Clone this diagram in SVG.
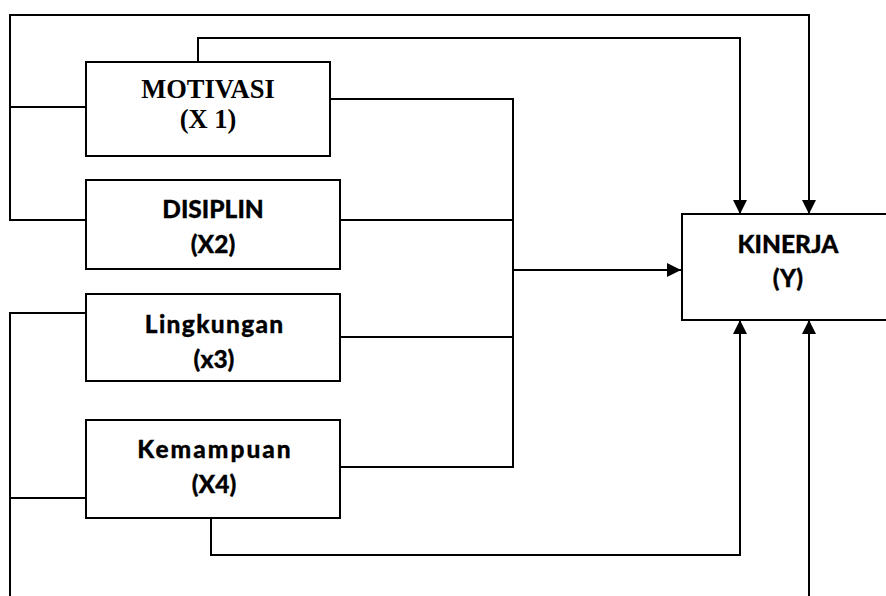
<svg xmlns="http://www.w3.org/2000/svg" width="886" height="596" viewBox="0 0 886 596">
  <style>
    .box { fill: #ffffff; stroke: #000000; stroke-width: 2; }
    .wire { fill: none; stroke: #000000; stroke-width: 2; }
    .serif { font-family: "Liberation Serif", "Times New Roman", serif; font-weight: bold; font-size: 26.5px; text-anchor: middle; fill: #000000; }
    .sans { font-family: Lato, "Open Sans", sans-serif; font-weight: 900; font-size: 24.5px; text-anchor: middle; fill: #000000; stroke: #000000; stroke-width: 0.3; }
  </style>
  <defs>
    <marker id="arrow" viewBox="0 0 10 10" refX="10" refY="5" markerUnits="userSpaceOnUse" markerWidth="15" markerHeight="14" orient="auto">
      <path d="M0,0 L10,5 L0,10 z" fill="#000000"/>
    </marker>
  </defs>

  <!-- connectors -->
  <g id="connectors">
    <!-- outer loop from X1 / X2 over the top into Y -->
    <path class="wire" d="M86,220 H10 V15 H809 V214" marker-end="url(#arrow)"/>
    <path class="wire" d="M10,107 H86"/>
    <!-- X1 top edge into Y -->
    <path class="wire" d="M198,62 V38 H740 V214" marker-end="url(#arrow)"/>
    <!-- collector bus on the right of the four variables -->
    <path class="wire" d="M330,99 H513 V467 H331"/>
    <path class="wire" d="M331,220 H513"/>
    <path class="wire" d="M331,337 H513"/>
    <path class="wire" d="M513,270 H681" marker-end="url(#arrow)"/>
    <!-- lower left loop from X3 / X4 -->
    <path class="wire" d="M86,313 H10 V596"/>
    <path class="wire" d="M10,498 H86"/>
    <!-- X4 bottom edge into Y -->
    <path class="wire" d="M211,518 V555 H740 V320" marker-end="url(#arrow)"/>
    <!-- rising line into Y from below -->
    <path class="wire" d="M809,596 V320" marker-end="url(#arrow)"/>
  </g>

  <g id="motivasi">
    <rect class="box" x="86" y="62" width="244" height="94"/>
    <text class="serif" x="208" y="98">MOTIVASI</text>
    <text class="serif" x="208" y="128">(X 1)</text>
  </g>

  <g id="disiplin">
    <rect class="box" x="86" y="180" width="254" height="89"/>
    <text class="sans" x="213" y="218">DISIPLIN</text>
    <text class="sans" x="213" y="253">(X2)</text>
  </g>

  <g id="lingkungan">
    <rect class="box" x="86" y="294" width="254" height="87"/>
    <text class="sans" x="214.7" y="333" letter-spacing="1.3">Lingkungan</text>
    <text class="sans" x="214" y="368">(x3)</text>
  </g>

  <g id="kemampuan">
    <rect class="box" x="86" y="420" width="254" height="98"/>
    <text class="sans" x="215" y="458" letter-spacing="2">Kemampuan</text>
    <text class="sans" x="214" y="493">(X4)</text>
  </g>

  <g id="kinerja">
    <rect class="box" x="682" y="214" width="220" height="106"/>
    <text class="sans" x="788" y="253">KINERJA</text>
    <text class="sans" x="788" y="287">(Y)</text>
  </g>
</svg>
